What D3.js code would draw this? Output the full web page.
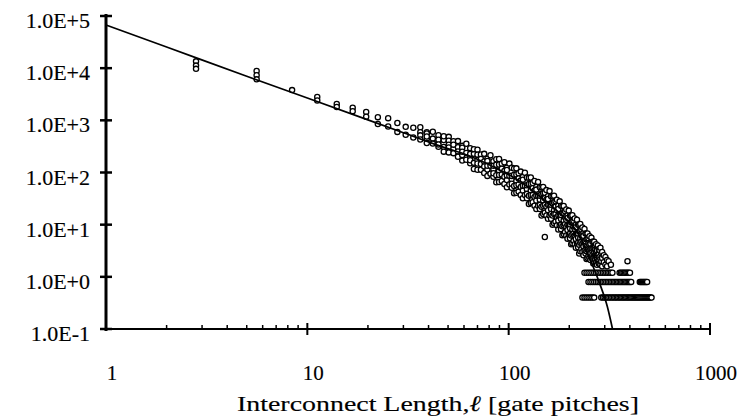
<!DOCTYPE html>
<html>
<head>
<meta charset="utf-8">
<script src="https://cdn.jsdelivr.net/npm/d3@7"></script>
<style>
  body { margin: 0; background: #fff; }
  svg { display: block; }
  text { font-family: "Liberation Serif", "Times New Roman", serif; fill: #000; stroke: #000; stroke-width: 0.15px; }
</style>
</head>
<body>
<div id="chart"></div>
<script>
// tick values / labels
const yTicks = [0.1, 1, 10, 100, 1000, 10000, 100000];
const yTickLabels = ["1.0E-1", "1.0E+0", "1.0E+1", "1.0E+2", "1.0E+3", "1.0E+4", "1.0E+5"];
const xTicks = [1, 10, 100, 1000];
const xTickLabels = ["1", "10", "100", "1000"];

// fitted distribution
const fitLengths = [1, 2, 5, 10, 20, 30, 45, 64, 90, 113, 142, 179, 225, 252, 283, 309, 328];
const fitCounts  = [67000, 25400, 7000, 2680, 1020, 578, 327, 207, 112, 69, 35, 16.7, 6.1, 2.3, 0.75, 0.27, 0.1];

// measured points, short wires
const sparseLengths = [2.8, 2.8, 2.8, 5.6, 5.6, 5.6, 8.4, 11.2, 11.2, 14.0, 14.0, 16.8, 16.8,
  19.6, 19.6, 22.4, 22.4, 25.2, 25.2, 28.0, 28.0, 30.8, 30.8, 33.6, 33.6];
const sparseCounts = [13500, 11200, 9700, 8800, 7300, 6100, 3800, 2800, 2400, 2050, 1800, 1750, 1500,
  1450, 1170, 1150, 850, 1100, 760, 890, 600, 750, 530, 720, 470];

// measured points, dense middle part (one list of counts per length)
const cloudLengths = [36.4, 39.2, 42.0, 44.8, 47.6, 50.4, 53.2, 56.0, 58.8, 61.6, 64.4, 67.2, 70.0,
  72.8, 75.6, 78.4, 81.2, 84.0, 86.8, 89.6, 92.4, 95.2, 98.0, 100.8, 103.6, 106.4, 109.2, 112.0,
  114.8, 117.6, 120.4, 123.2, 126.0, 128.8, 131.6, 134.4, 137.2, 140.0, 142.8, 145.6, 148.4, 151.2,
  154.0, 156.8, 159.6, 162.4, 165.2, 168.0, 170.8, 173.6, 176.4, 179.2, 182.0, 184.8, 187.6, 190.4,
  193.2, 196.0, 198.8, 201.6, 204.4, 207.2, 210.0, 212.8, 215.6, 218.4, 221.2, 224.0, 226.8, 229.6,
  232.4, 235.2, 238.0, 240.8, 243.6, 246.4, 249.2, 252.0, 254.8, 257.6, 260.4, 263.2, 266.0, 268.8,
  271.6, 274.4, 277.2, 280.0, 282.8, 285.6, 288.4, 291.2, 296.8, 302.4, 308.0, 313.6, 322.0, 389.2];
const cloudCounts = [
  [735, 594, 515, 430], [594, 561, 439, 366, 490], [603, 447, 358], [516, 387, 425, 310, 344],
  [421, 494, 309, 251], [482, 408, 340, 301, 243], [398, 287, 235, 342], [400, 304, 254, 201],
  [324, 299, 216, 169, 250], [355, 237, 176], [293, 201, 226, 150, 172], [228, 280, 153, 117],
  [274, 220, 174, 149, 113], [221, 146, 113, 182], [228, 163, 131, 98], [183, 167, 114, 86, 135],
  [214, 134, 95], [164, 116, 134, 83, 97], [141, 179, 89, 65], [182, 142, 108, 90, 66],
  [147, 92, 69, 118], [157, 107, 83, 60], [124, 112, 72, 52, 88], [148, 87, 59],
  [123, 74, 86, 51, 61], [91, 119, 55, 40], [120, 92, 69, 57, 41], [97, 59, 43, 77],
  [104, 70, 53, 37], [82, 73, 45, 32, 56], [99, 56, 37], [80, 48, 57, 32, 39], [60, 79, 36, 25],
  [80, 61, 45, 37, 26], [63, 37, 27, 50], [69, 45, 34, 23], [53, 47, 29, 20, 36], [66, 36, 23],
  [52, 30, 36, 20, 24], [39, 52, 22, 15], [53, 40, 29, 23, 16], [41, 24, 17, 32, 5.8],
  [46, 30, 22, 15], [35, 31, 19, 13, 24], [44, 24, 15], [35, 20, 24, 13, 16], [26, 35, 15, 10],
  [36, 27, 19, 16, 10.6], [28, 16, 11.4, 22], [30, 19, 14, 9.7], [23, 20, 12, 8.1, 15],
  [28, 15, 9.6], [23, 12.8, 15.3, 8.2, 10], [16.6, 22.5, 9.3, 6.3], [22.8, 16.8, 12.1, 9.7, 6.6],
  [18, 10.2, 7.2, 13.8], [19.5, 12.4, 9.1, 6.2], [15.1, 13.4, 7.9, 5.4, 10], [18.6, 10, 6.4],
  [14.9, 8.5, 10.2, 5.5, 6.7], [11, 14.9, 6.2, 4.2], [15.2, 11.3, 8.1, 6.5, 4.4], [11.9, 6.8, 4.9, 9.2],
  [13.1, 8.3, 6.2, 4.2], [10, 8.9, 5.3, 3.6, 6.7], [12.4, 6.7, 4.3], [10, 5.7, 6.8, 3.7, 4.5],
  [7.4, 10, 4.1, 2.8], [10.3, 7.7, 5.5, 4.5, 3.1], [8.1, 4.7, 3.4, 6.3], [8.8, 5.8, 4.3, 3.0],
  [6.9, 6.1, 3.8, 2.6, 4.7], [8.3, 4.8, 3.2], [6.8, 4.1, 4.8, 2.8, 3.3], [5.2, 6.7, 3.1, 2.2],
  [6.8, 5.3, 4.0, 3.3, 2.3], [5.5, 3.4, 2.5, 4.4], [6.0, 4.1, 3.2, 2.3], [4.6, 4.3, 2.8, 2.1, 3.4],
  [5.6, 3.5, 2.4], [4.7, 3.1, 3.5, 2.2, 2.6], [3.7, 4.7, 2.4, 1.8], [4.7, 3.8, 3.0, 2.5, 1.9],
  [3.9, 2.6, 2.1, 3.3], [4.2, 3.0, 2.5, 1.9], [3.5, 3.2, 2.2, 1.7, 2.6], [4.0, 2.7, 2.0],
  [3.4, 2.4, 2.7, 1.8, 2.1], [3.2, 2.4, 1.8], [3.6, 2.2, 1.7], [2.8, 2.0], [3.0, 2.3, 1.6],
  [2.6, 1.9], [2.4, 1.7], [2.1, 1.6], [2.0], [1.7], [2.0]
];

// long wires: counts fall on single-wire levels
const rowCounts = [1.2, 0.8, 0.4];
const rowLengths = [
  [238.0, 243.6, 249.2, 254.8, 260.4, 266.0, 271.6, 277.2, 282.8, 288.4, 294.0, 299.6, 305.2, 310.8,
   316.4, 322.0, 327.6, 355.6, 361.2, 366.8, 372.4, 378.0, 383.6, 389.2, 394.8, 400.4],
  [249.2, 254.8, 260.4, 266.0, 271.6, 277.2, 282.8, 288.4, 294.0, 299.6, 305.2, 310.8, 316.4, 322.0,
   327.6, 333.2, 338.8, 344.4, 350.0, 355.6, 361.2, 366.8, 372.4, 378.0, 383.6, 389.2, 394.8, 400.4,
   406.0, 448.0, 453.6, 459.2, 464.8, 470.4, 476.0, 481.6, 487.2],
  [232.4, 238.0, 243.6, 249.2, 254.8, 260.4, 266.0, 288.4, 294.0, 299.6, 305.2, 310.8, 316.4, 322.0,
   327.6, 333.2, 338.8, 344.4, 350.0, 355.6, 361.2, 366.8, 372.4, 378.0, 383.6, 389.2, 394.8, 400.4,
   406.0, 411.6, 417.2, 422.8, 428.4, 434.0, 439.6, 445.2, 450.8, 456.4, 462.0, 467.6, 473.2, 478.8,
   484.4, 490.0, 495.6, 501.2, 506.8, 512.4]
];

const W = 754, H = 419;
const svg = d3.select("#chart").append("svg").attr("width", W).attr("height", H);

const x = d3.scaleLog().domain([1, 1000]).range([106, 710]);
const y = d3.scaleLog().domain([0.1, 100000]).range([329, 16]);

// collect all measured points
const points = [];
sparseLengths.forEach((l, i) => points.push([l, sparseCounts[i]]));
cloudLengths.forEach((l, i) => cloudCounts[i].forEach(c => points.push([l, c])));
rowCounts.forEach((c, r) => rowLengths[r].forEach(l => points.push([l, c])));

svg.append("g").selectAll("circle")
  .data(points)
  .join("circle")
  .attr("cx", d => x(d[0]))
  .attr("cy", d => y(d[1]))
  .attr("r", 2.6)
  .attr("fill", "#fff")
  .attr("stroke", "#000")
  .attr("stroke-width", 1.3);

// fit curve
const fit = fitLengths.map((l, i) => [l, fitCounts[i]]);
svg.append("path")
  .datum(fit)
  .attr("fill", "none")
  .attr("stroke", "#000")
  .attr("stroke-width", 1.7)
  .attr("d", d3.line().x(d => x(d[0])).y(d => y(d[1])).curve(d3.curveMonotoneX));

// y axis
const x0 = x(1);
svg.append("line")
  .attr("x1", x0).attr("x2", x0)
  .attr("y1", y(100000) - 2).attr("y2", y(0.1) + 2)
  .attr("stroke", "#000").attr("stroke-width", 3);
svg.append("g").selectAll("line")
  .data(yTicks)
  .join("line")
  .attr("x1", x0 - 6).attr("x2", x0 + 6)
  .attr("y1", d => y(d)).attr("y2", d => y(d))
  .attr("stroke", "#000").attr("stroke-width", 2.5);
svg.append("g").selectAll("text")
  .data(yTicks)
  .join("text")
  .attr("x", 90)
  .attr("y", d => y(d) + 12)
  .attr("text-anchor", "end")
  .style("font-size", "22px")
  .text((d, i) => yTickLabels[i]);

// x axis
const y0 = y(0.1);
svg.append("line")
  .attr("x1", x0).attr("x2", x(1000))
  .attr("y1", y0).attr("y2", y0)
  .attr("stroke", "#000").attr("stroke-width", 2);
const minor = [];
[1, 10, 100].forEach(dec => { for (let m = 2; m <= 9; m++) minor.push(dec * m); });
svg.append("g").selectAll("line")
  .data(minor)
  .join("line")
  .attr("x1", d => x(d)).attr("x2", d => x(d))
  .attr("y1", y0 - 4).attr("y2", y0)
  .attr("stroke", "#000").attr("stroke-width", 1.5);
svg.append("g").selectAll("line")
  .data(xTicks.slice(1))
  .join("line")
  .attr("x1", d => x(d)).attr("x2", d => x(d))
  .attr("y1", y0 - 6).attr("y2", y0 + 6)
  .attr("stroke", "#000").attr("stroke-width", 2);
svg.append("g").selectAll("text")
  .data(xTicks)
  .join("text")
  .attr("x", d => x(d) + 6)
  .attr("y", 380)
  .attr("text-anchor", "middle")
  .style("font-size", "21px")
  .text((d, i) => xTickLabels[i]);

// axis title
const title = svg.append("text")
  .attr("x", 237)
  .attr("y", 411)
  .attr("textLength", 402)
  .attr("lengthAdjust", "spacingAndGlyphs")
  .style("font-size", "22px");
title.append("tspan").text("Interconnect Length,");
title.append("tspan").style("font-style", "italic").text("ℓ");
title.append("tspan").text(" [gate pitches]");
</script>
</body>
</html>
